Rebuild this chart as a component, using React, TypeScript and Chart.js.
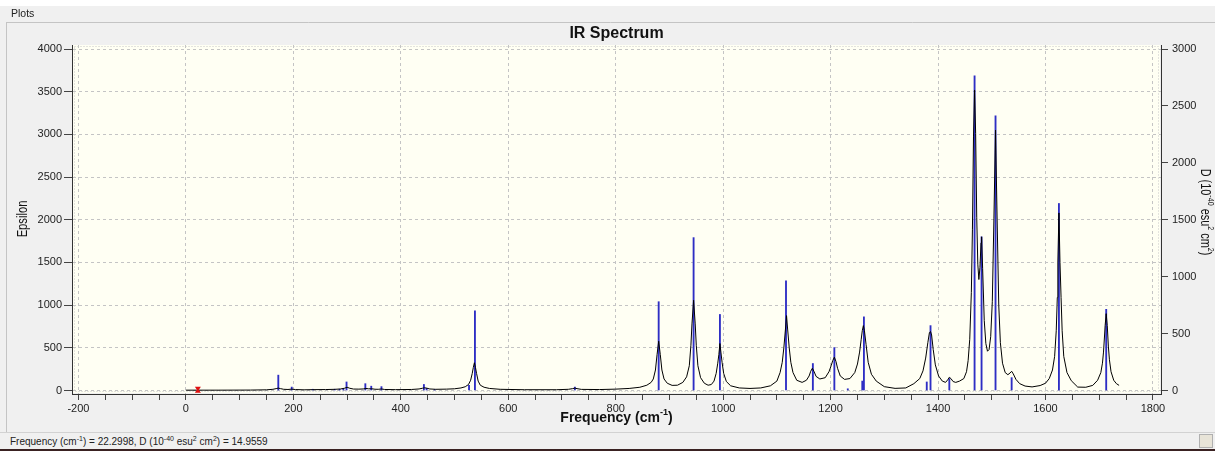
import React, { useEffect, useRef } from "react";
import { Chart, registerables } from "chart.js";

Chart.register(...registerables);

// Broadened spectrum (Epsilon, left axis)
const CURVE_FREQ = [
  0, 60, 120, 150, 162, 168, 172, 176, 182, 190, 197, 204, 220, 236, 260, 278, 288, 295, 300, 305,
  312, 322, 330, 335, 340, 346, 352, 358, 364, 370, 390, 420, 434, 440, 444, 448, 454, 465, 485, 500,
  512, 520, 526, 530, 533, 535, 537, 539, 541, 544, 548, 555, 565, 585, 630, 690, 712, 720, 724, 728,
  736, 770, 800, 825, 845, 858, 866, 870, 874, 877, 880, 883, 886, 890, 896, 905, 915, 925, 932, 937,
  940, 942, 945, 948, 950, 953, 958, 965, 972, 978, 983, 987, 990, 992, 994, 996, 998, 1001, 1006, 1014,
  1030, 1050, 1070, 1088, 1100, 1106, 1110, 1113, 1116, 1118, 1120, 1123, 1126, 1130, 1137, 1147, 1155, 1160, 1163, 1166,
  1169, 1173, 1180, 1190, 1197, 1201, 1204, 1207, 1210, 1213, 1218, 1226, 1236, 1245, 1250, 1254, 1257, 1259, 1261, 1263,
  1266, 1270, 1276, 1285, 1300, 1320, 1340, 1355, 1366, 1372, 1377, 1381, 1384, 1386, 1388, 1391, 1395, 1401, 1408, 1414,
  1418, 1421, 1424, 1428, 1433, 1440, 1448, 1453, 1456, 1459, 1462, 1464, 1466, 1468, 1470, 1472, 1474, 1476, 1478, 1480,
  1481, 1483, 1486, 1489, 1492, 1495, 1498, 1501, 1504, 1507, 1510, 1513, 1516, 1520, 1525, 1530, 1534, 1537, 1540, 1545,
  1552, 1562, 1575, 1590, 1600, 1607, 1613, 1617, 1620, 1622, 1623, 1625, 1627, 1629, 1631, 1634, 1640, 1648, 1660, 1675,
  1688, 1697, 1703, 1706, 1708, 1710, 1711, 1713, 1715, 1717, 1719, 1722, 1727, 1732, 1737,
];
const CURVE_EPSILON = [
  4, 4, 5, 8, 14, 22, 28, 22, 14, 12, 16, 11, 8, 10, 11, 14, 18, 26, 38, 26,
  17, 16, 18, 24, 20, 20, 15, 14, 18, 12, 10, 12, 18, 26, 32, 28, 18, 14, 16, 20,
  30, 44, 70, 120, 200, 270, 325, 270, 200, 110, 62, 38, 24, 14, 9, 9, 14, 22, 28, 22,
  13, 11, 16, 24, 38, 62, 95, 135, 240, 420, 577, 420, 240, 135, 85, 60, 62, 95, 160, 290,
  530, 780, 1057, 780, 530, 290, 150, 85, 62, 70, 110, 200, 320, 420, 550, 440, 330, 200, 105, 55,
  30, 24, 30, 55, 110, 210, 330, 500, 720, 877, 720, 500, 330, 210, 120, 95, 120, 170, 225, 260,
  225, 165, 135, 150, 220, 290, 350, 390, 340, 260, 170, 130, 140, 210, 310, 450, 600, 700, 760, 700,
  540, 330, 190, 110, 45, 25, 30, 80, 140, 230, 380, 560, 680, 690, 650, 480, 300, 170, 110, 95,
  125, 155, 140, 105, 95, 110, 140, 220, 350, 600, 1150, 1890, 2980, 3520, 3010, 2030, 1480, 1300, 1440, 1730,
  1800, 1430, 820, 550, 460, 480, 630, 1040, 2010, 3050, 2000, 1000, 560, 320, 210, 185, 205, 225, 195, 130,
  80, 52, 42, 58, 85, 140, 240, 400, 700, 1090, 1500, 2080, 1500, 1090, 700, 400, 210, 115, 40, 38,
  60, 120, 210, 320, 450, 650, 760, 900, 760, 520, 360, 220, 120, 80, 60,
];

// Stick spectrum (dipole strength D, right axis)
const STICK_FREQ = [
  172, 197, 236, 277, 286, 293, 299, 334, 345, 364, 443, 448, 463, 527, 538, 724, 880, 945, 994, 1117,
  1167, 1207, 1232, 1259, 1262, 1379, 1386, 1421, 1468, 1481, 1507, 1537, 1625, 1713,
];
const STICK_D = [
  135, 30, 11, 11, 11, 15, 75, 60, 38, 34, 53, 19, 8, 45, 700, 30, 780, 1343, 668, 964,
  237, 377, 15, 83, 647, 75, 570, 105, 2764, 1350, 2413, 113, 1643, 713,
];

const X_TICK_LABELS = [-200, 0, 200, 400, 600, 800, 1000, 1200, 1400, 1600, 1800];
const X_MINOR_STEP = 50;
const EPSILON_TICKS = [0, 500, 1000, 1500, 2000, 2500, 3000, 3500, 4000];
const D_TICKS = [0, 500, 1000, 1500, 2000, 2500, 3000];
const MARKER_FREQ = 22.2998;
const MARKER_D = 14.9559;
const TITLE = "IR Spectrum";

const FONT = '"Liberation Sans", Arial, sans-serif';

type Part = [string, boolean];

function richWidth(ctx: CanvasRenderingContext2D, parts: Part[], size: number, bold: boolean) {
  let w = 0;
  for (const [t, sup] of parts) {
    ctx.font = `${bold ? "bold " : ""}${sup ? size * 0.65 : size}px ${FONT}`;
    w += ctx.measureText(t).width;
  }
  return w;
}

function drawRich(ctx: CanvasRenderingContext2D, parts: Part[], cx: number, cy: number, size: number, bold: boolean) {
  ctx.textAlign = "left";
  ctx.textBaseline = "middle";
  let x = cx - richWidth(ctx, parts, size, bold) / 2;
  for (const [t, sup] of parts) {
    ctx.font = `${bold ? "bold " : ""}${sup ? size * 0.65 : size}px ${FONT}`;
    ctx.fillText(t, x, sup ? cy - size * 0.38 : cy);
    x += ctx.measureText(t).width;
  }
}

const decor = {
  id: "decor",
  beforeDraw(chart: any) {
    const { ctx, chartArea: a, width } = chart;
    ctx.save();
    ctx.fillStyle = "#F0F0F0";
    ctx.fillRect(0, 0, width, chart.height);
    ctx.strokeStyle = "#C4C4C4";
    ctx.lineWidth = 1;
    ctx.beginPath();
    ctx.moveTo(6, 22.5);
    ctx.lineTo(width, 22.5);
    ctx.moveTo(6.5, 22);
    ctx.lineTo(6.5, 432);
    ctx.stroke();
    ctx.fillStyle = "#FFFFF3";
    ctx.fillRect(a.left + 1, a.top, a.right - a.left - 2, a.bottom - a.top - 1);
    ctx.strokeStyle = "#C8C8C8";
    ctx.setLineDash([1, 2]);
    ctx.strokeRect(a.left + 2.5, a.top + 1.5, a.right - a.left - 5, a.bottom - a.top - 4);
    ctx.restore();
  },
  afterDraw(chart: any) {
    const { ctx, chartArea: a, scales } = chart;
    ctx.save();
    ctx.fillStyle = "#111";
    // title
    drawRich(ctx, [[TITLE, false]], (a.left + a.right) / 2, 34, 16, true);
    // x title
    drawRich(ctx, [["Frequency (cm", false], ["-1", true], [")", false]], (a.left + a.right) / 2, 418, 14, true);
    // left title
    ctx.save();
    ctx.translate(23, 219);
    ctx.rotate(-Math.PI / 2);
    ctx.scale(0.8, 1);
    drawRich(ctx, [["Epsilon", false]], 0, 0, 14, false);
    ctx.restore();
    // right title
    ctx.save();
    ctx.translate(1205, 212);
    ctx.rotate(Math.PI / 2);
    ctx.scale(0.78, 1);
    drawRich(
      ctx,
      [["D (10", false], ["-40", true], [" esu", false], ["2", true], [" cm", false], ["2", true], [")", false]],
      0, 0, 14, false
    );
    ctx.restore();
    // red marker
    const mx = scales.x.getPixelForValue(MARKER_FREQ);
    const my = scales.y2.getPixelForValue(MARKER_D) + 1;
    ctx.fillStyle = "#E01010";
    ctx.beginPath();
    ctx.moveTo(mx - 3, my - 3);
    ctx.lineTo(mx + 3, my - 3);
    ctx.lineTo(mx + 1, my);
    ctx.lineTo(mx + 3, my + 3);
    ctx.lineTo(mx - 3, my + 3);
    ctx.lineTo(mx - 1, my);
    ctx.closePath();
    ctx.fill();
    ctx.restore();
  },
};

const X_ALL_TICKS: number[] = [];
for (let v = X_TICK_LABELS[0]; v <= X_TICK_LABELS[X_TICK_LABELS.length - 1]; v += X_MINOR_STEP) X_ALL_TICKS.push(v);

const tickFont = { family: FONT, size: 11 };

export default function App() {
  const ref = useRef<HTMLCanvasElement>(null);
  useEffect(() => {
    const chart = new Chart(ref.current as HTMLCanvasElement, {
      type: "line",
      data: {
        datasets: [
          {
            type: "line",
            label: "Epsilon",
            data: CURVE_FREQ.map((x, i) => ({ x, y: CURVE_EPSILON[i] })),
            borderColor: "#000000",
            borderWidth: 1,
            pointRadius: 0,
            tension: 0,
            yAxisID: "y",
            order: 0,
          } as any,
          {
            type: "bar",
            label: "D",
            data: STICK_FREQ.map((x, i) => ({ x, y: STICK_D[i] })),
            backgroundColor: "#2E2EC4",
            borderWidth: 0,
            barThickness: 1.2,
            yAxisID: "y2",
            order: 1,
          } as any,
        ],
      },
      options: {
        animation: false,
        responsive: false,
        maintainAspectRatio: false,
        layout: { padding: { top: 45, bottom: 19, left: 0, right: 0 } },
        plugins: { legend: { display: false }, tooltip: { enabled: false }, title: { display: false } },
        scales: {
          x: {
            type: "linear",
            position: "bottom",
            min: -212,
            max: 1815,
            offset: false,
            afterBuildTicks: (s: any) => {
              s.ticks = X_ALL_TICKS.map((v) => ({ value: v }));
            },
            afterFit: (s: any) => {
              s.height = 38;
            },
            ticks: {
              autoSkip: false,
              maxRotation: 0,
              color: "#222",
              font: tickFont,
              padding: 2,
              callback: (v: any) => (X_TICK_LABELS.includes(Number(v)) ? String(v) : ""),
            },
            grid: {
              offset: false,
              color: (c: any) => (c.tick && X_TICK_LABELS.includes(c.tick.value) ? "#C4C4C4" : "rgba(0,0,0,0)"),
              tickColor: "#444",
              tickLength: 6,
              tickBorderDash: [],
              lineWidth: 1,
            },
            border: { display: true, color: "#333", width: 1, dash: [3, 3] },
          } as any,
          y: {
            type: "linear",
            position: "left",
            min: -41,
            max: 4047,
            afterBuildTicks: (s: any) => {
              s.ticks = EPSILON_TICKS.map((v) => ({ value: v }));
            },
            afterFit: (s: any) => {
              s.width = 72;
            },
            ticks: { color: "#222", font: tickFont, padding: 2, callback: (v: any) => String(v) },
            grid: { color: "#C4C4C4", tickColor: "#444", tickLength: 8, tickBorderDash: [], lineWidth: 1 },
            border: { display: true, color: "#333", width: 1, dash: [3, 3] },
          } as any,
          y2: {
            type: "linear",
            position: "right",
            min: -30.75,
            max: 3035.25,
            afterBuildTicks: (s: any) => {
              s.ticks = D_TICKS.map((v) => ({ value: v }));
            },
            afterFit: (s: any) => {
              s.width = 54;
            },
            ticks: { color: "#222", font: tickFont, padding: 4, callback: (v: any) => String(v) },
            grid: { drawOnChartArea: false, tickColor: "#444", tickLength: 7, tickBorderDash: [] },
            border: { display: true, color: "#333", width: 1 },
          } as any,
        },
      },
      plugins: [decor],
    });
    return () => chart.destroy();
  }, []);

  const sup = { fontSize: 7, position: "relative" as const, top: -4 };
  return (
    <div
      style={{
        position: "absolute",
        left: 0,
        top: 0,
        width: 1215,
        height: 451,
        overflow: "hidden",
        background: "#F0F0F0",
        fontFamily: FONT,
      }}
    >
      <canvas ref={ref} width={1215} height={451} style={{ position: "absolute", left: 0, top: 0, width: 1215, height: 451 }} />
      <div style={{ position: "absolute", left: 0, top: 0, width: 1215, height: 6, background: "#FFFFFF" }} />
      <div style={{ position: "absolute", left: 11, top: 7, fontSize: 10.5, lineHeight: "13px", color: "#222" }}>Plots</div>
      <div
        style={{
          position: "absolute",
          left: 0,
          top: 432,
          width: 1215,
          height: 16,
          background: "#F0F0F0",
          borderTop: "1px solid #D2D2D2",
          fontSize: 10,
          lineHeight: "17px",
          color: "#222",
          whiteSpace: "nowrap",
        }}
      >
        <span style={{ paddingLeft: 10 }}>
          Frequency (cm<span style={sup}>-1</span>) = {MARKER_FREQ}, D (10<span style={sup}>-40</span> esu
          <span style={sup}>2</span> cm<span style={sup}>2</span>) = {MARKER_D}
        </span>
        <div
          style={{
            position: "absolute",
            left: 1199,
            top: 1,
            width: 14,
            height: 14,
            border: "1px solid #B0B0B0",
            background: "#E8E4D8",
            boxSizing: "border-box",
          }}
        />
      </div>
      <div style={{ position: "absolute", left: 0, top: 449, width: 1215, height: 2, background: "#3A2222" }} />
    </div>
  );
}
